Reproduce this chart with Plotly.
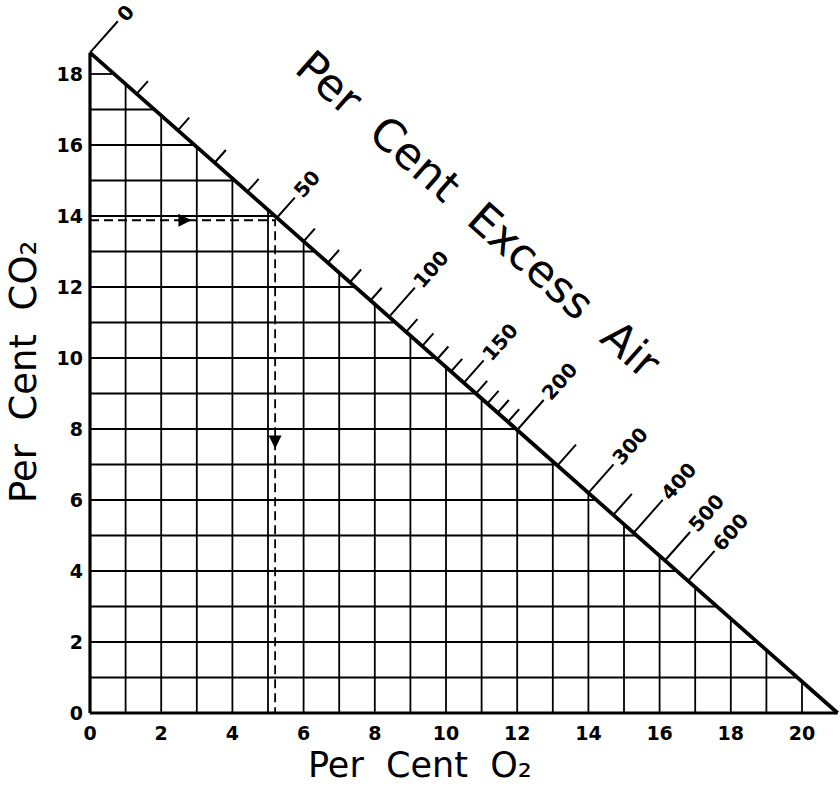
import math
import plotly.graph_objects as go

# ---------------- data ----------------
o2_max = 21.0          # per cent O2 at zero CO2
co2_max = 18.6         # per cent CO2 at zero excess air
o2_grid = list(range(1, 21))
co2_grid = list(range(1, 19))
o2_ticks = [0, 2, 4, 6, 8, 10, 12, 14, 16, 18, 20]
co2_ticks = [0, 2, 4, 6, 8, 10, 12, 14, 16, 18]

# excess-air scale along the hypotenuse (position read as per cent O2)
ea_labels = [0, 50, 100, 150, 200, 300, 400, 500, 600]
ea_labels_o2 = [0.0, 5.25, 8.4, 10.5, 12.0, 14.0, 15.27, 16.15, 16.8]
ea_mid = [250, 350]
ea_mid_o2 = [13.13, 14.7]
ea_minor = [10, 20, 30, 40, 60, 70, 80, 90, 110, 120, 130, 140, 160, 170, 180, 190]
ea_minor_o2 = [1.31, 2.47, 3.5, 4.42, 6.0, 6.68, 7.3, 7.88, 8.88, 9.33, 9.75, 10.14,
               10.84, 11.16, 11.45, 11.74]

# worked example (dashed)
example_o2 = 5.2
example_co2 = 13.88
arrow_right_o2 = 2.85
arrow_down_co2 = 7.45

# ---------------- layout geometry ----------------
W, H = 840, 789
ML, MR, MT, MB = 84, 0, 0, H - 720
PW, PH = W - ML - MR, H - MT - MB
SX, SY = 35.6, 35.5                       # px per unit
X0PX, Y0PX = 90, 713                      # pixel position of (0, 0)
xr = [-(X0PX - ML) / SX, -(X0PX - ML) / SX + PW / SX]
yr = [-(H - MB - Y0PX) / SY, -(H - MB - Y0PX) / SY + PH / SY]

def px_to_paper(px, py):
    return (px - ML) / PW, (H - MB - py) / PH

def px_to_data(px, py):
    return (px - X0PX) / SX, (Y0PX - py) / SY

major_len = {0: 42, 50: 27, 100: 39, 150: 30, 200: 40, 300: 38, 400: 44, 500: 38, 600: 40}
mid_len = 28
minor_len = 17
ea_font = 20

def hyp_y(x):
    return co2_max * (1 - x / o2_max)

def hyp_x(y):
    return o2_max * (1 - y / co2_max)

hx, hy = o2_max * SX, co2_max * SY
hl = math.hypot(hx, hy)
ux, uy = hx / hl, hy / hl          # along hypotenuse (screen, down-right)

def perp(L):
    return uy * L / SX, ux * L / SY   # data offset up-right

def seg_trace(xs, ys, width, dash=None):
    return go.Scatter(x=xs, y=ys, mode="lines", hoverinfo="skip", showlegend=False,
                      line=dict(color="black", width=width, dash=dash))

fig = go.Figure()

# grid clipped to triangle
gx, gy = [], []
for v in o2_grid:
    gx += [v, v, None]
    gy += [0, hyp_y(v), None]
for h in co2_grid:
    gx += [0, hyp_x(h), None]
    gy += [h, h, None]
fig.add_trace(seg_trace(gx, gy, 1.8))

# axes lines of triangle
fig.add_trace(seg_trace([0, 0, None, 0, o2_max], [co2_max, 0, None, 0, 0], 3.2))
# hypotenuse
fig.add_trace(seg_trace([0, o2_max], [co2_max, 0], 3.8))

# excess-air ticks
tx, ty = [], []
def add_tick(o2, L):
    x0, y0 = o2, hyp_y(o2)
    dx, dy = perp(L)
    tx.extend([x0, x0 + dx, None])
    ty.extend([y0, y0 + dy, None])
    return x0 + dx, y0 + dy

for o2 in ea_minor_o2:
    add_tick(o2, minor_len)
for o2 in ea_mid_o2:
    add_tick(o2, mid_len)
angle = -math.degrees(math.atan2(ux, uy))
for lab, o2 in zip(ea_labels, ea_labels_o2):
    ex, ey = add_tick(o2, major_len[lab])
    txt = str(lab)
    d = 5 + len(txt) * 0.66 * ea_font / 2
    ddx, ddy = perp(d)
    fig.add_annotation(x=ex + ddx, y=ey + ddy, text=txt, showarrow=False,
                       textangle=angle, xanchor="center", yanchor="middle",
                       font=dict(family="DejaVu Sans", size=ea_font, color="black",
                                 weight="bold"))
fig.add_trace(seg_trace(tx, ty, 2.0))

# dashed example lines
fig.add_trace(seg_trace([0, example_o2, example_o2], [example_co2, example_co2, 0],
                        1.8, dash="9px,5px"))
fig.add_trace(go.Scatter(x=[arrow_right_o2, example_o2], y=[example_co2, arrow_down_co2],
                         mode="markers", hoverinfo="skip", showlegend=False,
                         marker=dict(symbol=["arrow-right", "arrow-down"], size=13,
                                     color="black", line=dict(width=0))))

# scale title along hypotenuse
tx_, ty_ = px_to_data(479, 214)
fig.add_annotation(x=tx_, y=ty_, text="Per  Cent  Excess  Air", showarrow=False,
                   textangle=math.degrees(math.atan2(uy, ux)),
                   xanchor="center", yanchor="middle",
                   font=dict(family="DejaVu Sans", size=44, color="black"))

# axis titles
ax_, ay_ = px_to_paper(420, 765)
fig.add_annotation(x=ax_, y=ay_, xref="paper", yref="paper",
                   text="Per  Cent  O₂", showarrow=False,
                   xanchor="center", yanchor="middle",
                   font=dict(family="DejaVu Sans", size=35, color="black"))
bx_, by_ = px_to_paper(24, 372)
fig.add_annotation(x=bx_, y=by_, xref="paper", yref="paper",
                   text="Per  Cent  CO₂", showarrow=False,
                   textangle=-90, xanchor="center", yanchor="middle",
                   font=dict(family="DejaVu Sans", size=37, color="black"))

fig.update_layout(
    width=W, height=H,
    margin=dict(l=ML, r=MR, t=MT, b=MB, pad=0, autoexpand=False),
    paper_bgcolor="white", plot_bgcolor="white",
    font=dict(family="DejaVu Sans", color="black"),
    xaxis=dict(range=xr, tickvals=o2_ticks, ticktext=[str(v) for v in o2_ticks],
               showgrid=False, zeroline=False, showline=False, ticks="",
               automargin=False, fixedrange=True,
               tickfont=dict(size=19, weight="bold")),
    yaxis=dict(range=yr, tickvals=co2_ticks, ticktext=[str(v) for v in co2_ticks],
               showgrid=False, zeroline=False, showline=False, ticks="",
               automargin=False, fixedrange=True,
               tickfont=dict(size=19, weight="bold")),
)

# remove the default page margin so the figure sits at the window's top-left corner
fig.write_html("out.html", config={"displayModeBar": False},
               post_script="document.body.style.margin='0';document.body.style.overflow='hidden';")
